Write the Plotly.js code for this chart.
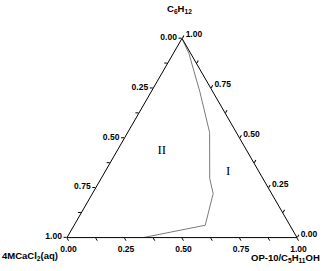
<!DOCTYPE html>
<html>
<head>
<meta charset="utf-8">
<script src="https://cdn.plot.ly/plotly-3.0.1.min.js"></script>
<style>html,body{margin:0;padding:0;background:#fff;}#chart{width:332px;height:271px;}</style>
</head>
<body>
<div id="chart"></div>
<script>
// Phase boundary curve (fractions): a = C6H12, b = 4MCaCl2(aq), c = OP-10/C5H11OH
var curveA = [1.000, 0.923, 0.837, 0.733, 0.528, 0.297, 0.221, 0.062, 0.000];
var curveB = [0.000, 0.008, 0.030, 0.056, 0.116, 0.231, 0.254, 0.368, 0.669];
var curveC = [0.000, 0.069, 0.133, 0.211, 0.356, 0.472, 0.525, 0.570, 0.331];

// Region labels
var regionText = ["II", "I"];
var regionA = [0.436, 0.333];
var regionB = [0.370, 0.133];
var regionC = [0.194, 0.534];

// Ticks (labels read along each edge in the reference's orientation)
var tickVals = [0, 0.125, 0.25, 0.375, 0.5, 0.625, 0.75, 0.875, 1];
var tickText = ["1.00", "", "0.75", "", "0.50", "", "0.25", "", "0.00"];

// Axis titles
var titleA = "C<sub>6</sub>H<sub>12</sub>";
var titleB = "4MCaCl<sub>2</sub>(aq)";
var titleC = "OP-10/C<sub>5</sub>H<sub>11</sub>OH";

var sansFont = "Liberation Sans, Arial, sans-serif";

function axisCfg() {
  return {
    showgrid: false,
    showline: true,
    linecolor: "#000",
    linewidth: 1,
    ticks: "outside",
    ticklen: 3,
    tickwidth: 1,
    tickcolor: "#000",
    tickmode: "array",
    tickvals: tickVals,
    ticktext: tickText,
    tickfont: {family: sansFont, size: 8.5, color: "#000", weight: "bold"},
    title: {text: ""}
  };
}

var traces = [
  {
    type: "scatterternary",
    mode: "lines",
    a: curveA, b: curveB, c: curveC,
    line: {color: "#7a7a7a", width: 1},
    hoverinfo: "skip",
    showlegend: false
  },
  {
    type: "scatterternary",
    mode: "text",
    a: regionA, b: regionB, c: regionC,
    text: regionText,
    textfont: {family: "Liberation Serif, Times New Roman, serif", size: 13, color: "#000"},
    hoverinfo: "skip",
    showlegend: false
  }
];

var titleFont = {family: sansFont, size: 9.5, color: "#000", weight: "bold"};

var layout = {
  width: 332,
  height: 271,
  margin: {l: 67, r: 35, t: 38, b: 33, pad: 0},
  paper_bgcolor: "#fff",
  showlegend: false,
  hovermode: false,
  ternary: {
    sum: 1,
    bgcolor: "#fff",
    aaxis: axisCfg(),
    baxis: axisCfg(),
    caxis: axisCfg()
  },
  annotations: [
    {text: titleA, xref: "paper", yref: "paper", x: 0.491, y: 1.145, xanchor: "center", yanchor: "middle", showarrow: false, borderpad: 0, font: titleFont},
    {text: titleB, xref: "paper", yref: "paper", x: -0.162, y: -0.09, xanchor: "center", yanchor: "middle", showarrow: false, borderpad: 0, font: titleFont},
    {text: titleC, xref: "paper", yref: "paper", x: 0.948, y: -0.098, xanchor: "center", yanchor: "middle", showarrow: false, borderpad: 0, font: titleFont}
  ]
};

Plotly.newPlot("chart", traces, layout, {displayModeBar: false, staticPlot: true});
</script>
</body>
</html>
